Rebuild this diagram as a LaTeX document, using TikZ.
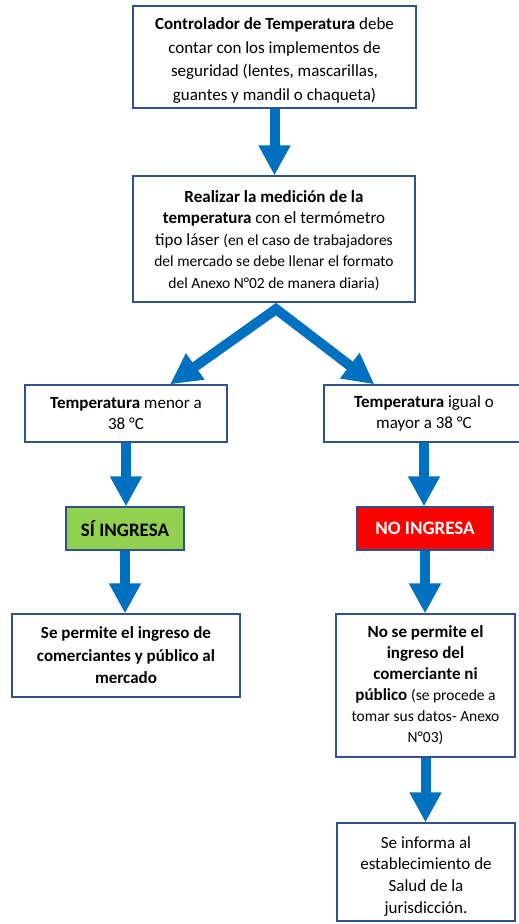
\documentclass[tikz,border=0pt]{standalone}
\usepackage{fontspec}
\setmainfont{Carlito}
\usetikzlibrary{arrows.meta,calc}
\definecolor{arrowblue}{HTML}{0070C0}
\definecolor{boxborder}{HTML}{2F528F}
\definecolor{okgreen}{HTML}{92D050}
\definecolor{stopred}{HTML}{FF0000}
\newcommand\smtxt{\fontsize{15.5}{20}\selectfont}
\begin{document}
\begin{tikzpicture}[x=1pt,y=-1pt,
  box/.style={draw=boxborder, line width=1.2pt, fill=white, align=center, inner sep=0pt},
  flowline/.style={draw=arrowblue, line width=10pt},
  flow/.style={flowline, -{Triangle[length=30pt,width=30pt]}},
]
\useasboundingbox (0,0) rectangle (519,924);
% boxes
\node[box, minimum width=283pt, minimum height=102pt, font=\fontsize{17}{23.8}\selectfont] (b1) at (274.5,57)
  {\rule{0pt}{19pt}\textbf{Controlador de Temperatura} debe\\contar con los implementos de\\seguridad (lentes, mascarillas,\\guantes y mandil o chaqueta)};
\node[box, minimum width=282pt, minimum height=126pt, font=\fontsize{17}{21.5}\selectfont] (b2) at (274,239)
  {\rule{0pt}{15pt}\textbf{Realizar la medición de la}\\\textbf{temperatura} con el termómetro\\tipo láser {\smtxt (en el caso de trabajadores}\\{\smtxt del mercado se debe llenar el formato}\\{\smtxt del Anexo N°02 de manera diaria)}};
\node[box, minimum width=202pt, minimum height=57pt, font=\fontsize{17}{20.5}\selectfont] (t1) at (126,413.5)
  {\textbf{Temperatura} menor a\\38 °C};
\node[box, minimum width=200pt, minimum height=57pt, font=\fontsize{17}{20.5}\selectfont] (t2) at (424,413.5)
  {\textbf{Temperatura} igual o\\mayor a 38 °C};
\node[box, fill=okgreen, minimum width=118pt, minimum height=43pt, font=\fontsize{19}{22}\selectfont\bfseries] (si) at (125,528.5)
  {SÍ INGRESA};
\node[box, fill=stopred, text=white, minimum width=136pt, minimum height=43pt, font=\fontsize{19}{22}\selectfont\bfseries] (no) at (425,528.5)
  {NO INGRESA};
\node[box, minimum width=228pt, minimum height=83pt, font=\fontsize{17}{22.5}\selectfont\bfseries] (l3) at (126,655.5)
  {Se permite el ingreso de\\comerciantes y público al\\mercado};
\node[box, minimum width=179pt, minimum height=143pt, font=\fontsize{17}{21}\selectfont] (r3) at (425.5,685.5)
  {\textbf{No se permite el}\\\textbf{ingreso del}\\\textbf{comerciante ni}\\\textbf{público} {\smtxt (se procede a}\\{\smtxt tomar sus datos- Anexo}\\{\smtxt N°03)}};
\node[box, minimum width=178pt, minimum height=98pt, font=\fontsize{17}{21.7}\selectfont] (r4) at (426,872)
  {\rule{0pt}{20pt}Se informa al\\establecimiento de\\Salud de la\\jurisdicción.};
% connectors
\draw[flow] (b1.south) -- (b1.south |- b2.north);
\coordinate (split) at ($(b2.south)+(2,6.5)$);
\draw[flowline, line join=miter, {Triangle[length=31pt,width=30pt]}-{Triangle[length=31pt,width=30pt]}]
  ($(t1.north)+(44,0)$) -- (split) -- ($(t2.north west)+(51,0)$);
\draw[flow] (t1.south) -- (t1.south |- si.north);
\draw[flow] (t2.south) -- (t2.south |- no.north);
\draw[flow] (si.south) -- (si.south |- l3.north);
\draw[flow] (no.south) -- (no.south |- r3.north);
\draw[flow] (r3.south) -- (r3.south |- r4.north);
\end{tikzpicture}
\end{document}
